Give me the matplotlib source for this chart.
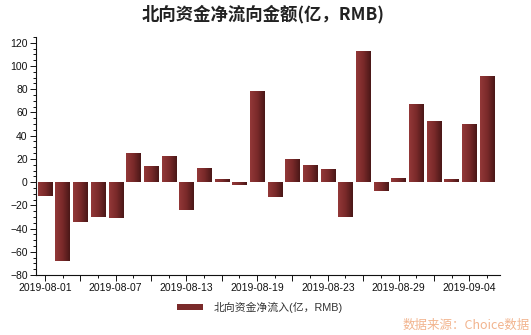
import numpy as np
import matplotlib
matplotlib.use("Agg")
import matplotlib.pyplot as plt
from matplotlib.colors import LinearSegmentedColormap
from matplotlib.patches import Patch
from matplotlib.ticker import FixedLocator, MultipleLocator

plt.rcParams['font.family'] = ['Liberation Sans', 'Noto Sans CJK SC', 'DejaVu Sans']

# Northbound net inflow per trading day (100m RMB)
dates = ["2019-08-01", "2019-08-02", "2019-08-05", "2019-08-06", "2019-08-07",
         "2019-08-08", "2019-08-09", "2019-08-12", "2019-08-13", "2019-08-14",
         "2019-08-15", "2019-08-16", "2019-08-19", "2019-08-20", "2019-08-21",
         "2019-08-22", "2019-08-23", "2019-08-26", "2019-08-27", "2019-08-28",
         "2019-08-29", "2019-08-30", "2019-09-02", "2019-09-03", "2019-09-04",
         "2019-09-05"]
net_inflow = [-11.8, -67.8, -34.5, -29.9, -30.7, 25.0, 13.8, 22.4, -24.1, 12.3,
              2.6, -2.6, 78.4, -12.6, 19.8, 14.6, 11.2, -29.9, 112.8, -7.8,
              3.4, 67.2, 52.5, 2.6, 50.0, 91.3]

title = "北向资金净流向金额(亿，RMB)"
legend_label = "北向资金净流入(亿，RMB)"
source_note = "数据来源：Choice数据"

bar_cmap = LinearSegmentedColormap.from_list("bar", ["#933838", "#7a2a2a", "#4a1717"])

fig = plt.figure(figsize=(5.31, 3.35), dpi=100)
ax = fig.add_axes([36 / 531, 1 - 275 / 335, 464 / 531, 238 / 335])

x = np.arange(len(dates))
width = 0.8
grad = np.linspace(0, 1, 64).reshape(1, -1)
bars = ax.bar(x, net_inflow, width=width, color="#6e2424", linewidth=0, zorder=2)
for rect in bars:
    # horizontal gradient fill, clipped to the bar's own rectangle
    x0, x1 = rect.get_x(), rect.get_x() + rect.get_width()
    y0, y1 = sorted((rect.get_y(), rect.get_y() + rect.get_height()))
    im = ax.imshow(grad, cmap=bar_cmap, aspect="auto", interpolation="bilinear",
                   extent=(x0, x1, y0, y1), zorder=3)
    im.set_clip_path(rect)

ax.set_xlim(-0.5, len(dates) - 0.26)
ax.set_ylim(-80, 125)

ax.yaxis.set_major_locator(FixedLocator(np.arange(-80, 121, 20)))
ax.yaxis.set_minor_locator(MultipleLocator(5))
ax.xaxis.set_major_locator(FixedLocator(x[::2]))
ax.xaxis.set_minor_locator(FixedLocator(x[1::2]))
ax.set_xticklabels([d if i % 4 == 0 else "" for i, d in enumerate(dates) if i % 2 == 0])

for s in ("top", "right"):
    ax.spines[s].set_visible(False)
for s in ("left", "bottom"):
    ax.spines[s].set_linewidth(0.8)
    ax.spines[s].set_color("#111111")

ax.tick_params(axis="both", which="major", length=4, width=0.7, labelsize=7.5,
               colors="#111111", pad=2)
ax.tick_params(axis="both", which="minor", length=2, width=0.7, colors="#111111")

fig.text(0.495, 0.958, title, ha="center", va="center", fontsize=12.5, fontweight="bold",
         color="#222222", family=["Noto Sans CJK SC", "DejaVu Sans"])

handle = Patch(facecolor="#7a2a2a", edgecolor="none")
fig.legend([handle], [legend_label], loc="center", bbox_to_anchor=(0.49, 0.083),
           frameon=False, fontsize=7.8, handlelength=2.4, handleheight=0.6,
           handletextpad=1.0, labelcolor="#333333")

fig.text(0.997, 0.028, source_note, ha="right", va="center", fontsize=9,
         color="#f2b48e", family=["Noto Sans CJK SC", "DejaVu Sans"])

fig.savefig("out.png", dpi=100)
